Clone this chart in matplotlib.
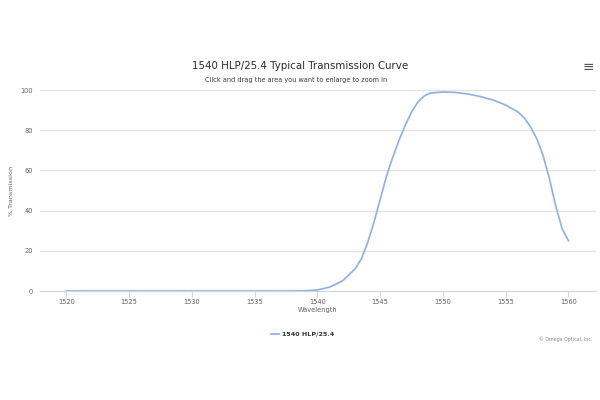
import matplotlib
matplotlib.use("Agg")
import matplotlib.pyplot as plt
from matplotlib.lines import Line2D

# data
wavelength = [1520, 1525, 1530, 1535, 1538, 1539, 1540, 1541, 1542, 1543, 1543.5,
              1544, 1544.5, 1545, 1545.5, 1546, 1546.5, 1547, 1547.5, 1548, 1548.5,
              1549, 1550, 1551, 1552, 1553, 1554, 1555, 1556, 1556.5, 1557, 1557.5,
              1558, 1558.5, 1559, 1559.5, 1560]
transmission = [0, 0, 0, 0, 0, 0.1, 0.5, 2, 5, 11, 16,
                24, 34, 45.5, 57, 66.5, 75, 82.5, 89, 94, 97,
                98.5, 99, 98.8, 98, 96.7, 95, 92.5, 89, 86, 81.5, 75.5,
                67, 55.5, 42, 31, 25]
series_name = "1540 HLP/25.4"
yticks = [0, 20, 40, 60, 80, 100]
xticks = [1520, 1525, 1530, 1535, 1540, 1545, 1550, 1555, 1560]

line_color = "#8fb3e3"
grid_color = "#e3e3e3"
text_color = "#606060"

fig = plt.figure(figsize=(6, 4), dpi=100)
ax = fig.add_axes([0.0667, 0.2725, 0.9267, 0.5025])

ax.plot(wavelength, transmission, color=line_color, linewidth=1.25)

ax.set_xlim(1517.9, 1562.2)
ax.set_ylim(0, 100)
ax.set_yticks(yticks)
ax.set_xticks(xticks)
ax.yaxis.grid(True, color=grid_color, linewidth=1)
ax.set_axisbelow(True)
for s in ["top", "right", "left"]:
    ax.spines[s].set_visible(False)
ax.spines["bottom"].set_color("#d5d5d5")
ax.tick_params(axis="y", length=0, labelsize=4.8, labelcolor=text_color, pad=5)
ax.tick_params(axis="x", length=4, color="#d5d5d5", labelsize=4.8,
               labelcolor=text_color, pad=1.8)

fig.text(0.53, 1 - 310 / 400, "Wavelength", ha="center", va="center",
         fontsize=4.8, color=text_color)
fig.text(0.02, 1 - 191 / 400, "% Transmission", ha="center", va="center",
         rotation=90, fontsize=4.6, color=text_color)

fig.text(0.5, 1 - 66 / 400, "1540 HLP/25.4 Typical Transmission Curve",
         ha="center", va="center", fontsize=7.4, color="#2a2a2a")
fig.text(0.494, 1 - 80 / 400, "Click and drag the area you want to enlarge to zoom in",
         ha="center", va="center", fontsize=4.7, color="#3a3a3a")
fig.text(0.98, 1 - 67 / 400, "\u2261", ha="center", va="center", fontsize=10, color="#555555")

handle = Line2D([], [], color=line_color, linewidth=1.25)
fig.legend([handle], [series_name], loc="center", bbox_to_anchor=(0.504, 1 - 334 / 400),
           frameon=False, handlelength=1.4, handletextpad=0.4,
           prop={"size": 4.6, "weight": "bold"}, labelcolor="#333333")

fig.text(0.988, 1 - 339 / 400, "\u00a9 Omega Optical, Inc.", ha="right", va="center",
         fontsize=3.45, color="#888888")

fig.savefig("out.png", dpi=100)
